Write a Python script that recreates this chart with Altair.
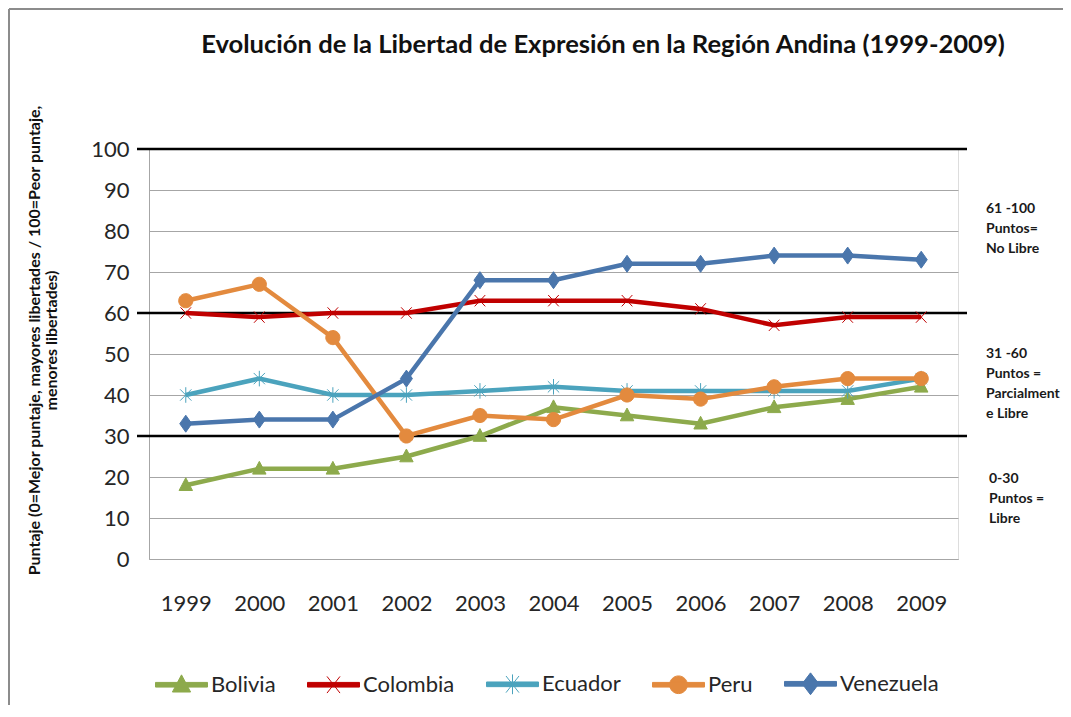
import altair as alt
import pandas as pd

years = ["1999", "2000", "2001", "2002", "2003", "2004", "2005", "2006", "2007", "2008", "2009"]
countries = ["Bolivia", "Colombia", "Ecuador", "Peru", "Venezuela"]
bolivia = [18, 22, 22, 25, 30, 37, 35, 33, 37, 39, 42]
colombia = [60, 59, 60, 60, 63, 63, 63, 61, 57, 59, 59]
ecuador = [40, 44, 40, 40, 41, 42, 41, 41, 41, 41, 44]
peru = [63, 67, 54, 30, 35, 34, 40, 39, 42, 44, 44]
venezuela = [33, 34, 34, 44, 68, 68, 72, 72, 74, 74, 73]
thresholds = [30, 60, 100]
y_ticks = [0, 10, 20, 30, 40, 50, 60, 70, 80, 90, 100]

title_text = "Evolución de la Libertad de Expresión en la Región Andina (1999-2009)"
y_title = ["Puntaje (0=Mejor puntaje, mayores libertades / 100=Peor puntaje,",
           "menores libertades)"]
ann_no_libre = ["61 -100", "Puntos=", "No Libre"]
ann_parcial = ["31 -60", "Puntos =", "Parcialment", "e Libre"]
ann_libre = ["0-30", "Puntos =", "Libre"]

colors = ["#8DAA4C", "#C00000", "#4BA3BD", "#E38A3E", "#4A76AC"]

# marker paths (chart)
marker_paths = [
    "M0,-1.05L0.95,0.75L-0.95,0.75Z",
    "M-0.75,-0.8L0.75,0.8M-0.75,0.8L0.75,-0.8",
    "M-0.8,-0.8L0.8,0.8M-0.8,0.8L0.8,-0.8M0,-1.1L0,1.1",
    "M-1,0A1,1 0 1,1 1,0A1,1 0 1,1 -1,0Z",
    "M0,-1.2L0.85,0L0,1.2L-0.85,0Z",
]
# legend paths: line segment + marker
bar = "M-1,-0.09L1,-0.09L1,0.09L-1,0.09Z"
legend_paths = [
    bar + "M0,-0.38L0.35,0.28L-0.35,0.28Z",
    bar + "M-0.25,-0.32L0.25,0.32M-0.25,0.32L0.25,-0.32",
    bar + "M-0.25,-0.32L0.25,0.32M-0.25,0.32L0.25,-0.32M0,-0.38L0,0.38",
    bar + "M-0.34,0A0.34,0.34 0 1,1 0.34,0A0.34,0.34 0 1,1 -0.34,0Z",
    bar + "M0,-0.42L0.32,0L0,0.42L-0.32,0Z",
]

series = [bolivia, colombia, ecuador, peru, venezuela]
rows = []
for c, vals in zip(countries, series):
    for yr, v in zip(years, vals):
        rows.append({"year": yr, "country": c, "value": v})
df = pd.DataFrame(rows)

W, H = 809, 410
PL, PT = 141, 141
TOTW, TOTH = 1055, 697

xenc = alt.X("year:O", sort=years,
             scale=alt.Scale(type="point", padding=0.5),
             axis=alt.Axis(labelAngle=0, ticks=False, grid=False, title=None,
                           domainColor="#A6A6A6", domainWidth=1,
                           labelFont="Lato", labelFontSize=22, labelColor="#262626",
                           labelPadding=44, labelBaseline="middle"))
yscale = alt.Scale(domain=[0, 100], nice=False)
yenc = alt.Y("value:Q", scale=yscale,
             axis=alt.Axis(values=y_ticks, ticks=False, grid=True, gridColor="#A6A6A6",
                           gridWidth=1, domainColor="#A6A6A6", domainWidth=1,
                           labelFont="Lato", labelFontSize=22, labelColor="#262626",
                           labelPadding=20,
                           title=y_title,
                           titleFont="Lato", titleFontSize=16, titleFontWeight="bold",
                           titleColor="#111111", titleAngle=-90, titleAlign="center",
                           titleBaseline="middle", titleX=-115, titleY=191,
                           titleLineHeight=17))

one = pd.DataFrame({"k": [0]})

frame_top = alt.Chart(one).mark_rule(color="#8C8C8C", strokeWidth=2).encode(
    x=alt.value(-140), x2=alt.value(TOTW - PL), y=alt.value(-140))
frame_left = alt.Chart(one).mark_rule(color="#8C8C8C", strokeWidth=2).encode(
    x=alt.value(-140), y=alt.value(-140), y2=alt.value(TOTH - PT))

title_mark = alt.Chart(one).mark_text(
    text=title_text, font="Lato", fontSize=25.6, fontWeight="bold", color="#111111",
    align="center", baseline="alphabetic").encode(x=alt.value(454), y=alt.value(-96))

thr = alt.Chart(pd.DataFrame({"t": thresholds})).mark_rule(color="black", strokeWidth=2.5).encode(
    y=alt.Y("t:Q", scale=yscale), x=alt.value(-12), x2=alt.value(818))

color_scale = alt.Scale(domain=countries, range=colors)

lines = alt.Chart(df).mark_line(strokeWidth=4.5).encode(
    x=xenc, y=yenc,
    color=alt.Color("country:N", scale=color_scale, legend=None))

points = alt.Chart(df).mark_point(filled=True, size=200, strokeWidth=1, opacity=1).encode(
    x=xenc, y=yenc,
    fill=alt.Fill("country:N", scale=color_scale, legend=None),
    stroke=alt.Stroke("country:N", scale=color_scale, legend=None),
    shape=alt.Shape("country:N", scale=alt.Scale(domain=countries, range=marker_paths), legend=None))

leg = alt.Legend(orient="none", legendX=6, legendY=508, direction="horizontal", columns=5,
                 title=None, padding=0, columnPadding=29, labelOffset=3,
                 symbolSize=2704, symbolStrokeWidth=1, symbolOpacity=1,
                 labelFont="Lato", labelFontSize=22, labelColor="#262626")
legend_layer = alt.Chart(df).transform_filter("false").mark_point(
    filled=True, strokeWidth=1, opacity=1).encode(
    fill=alt.Fill("country:N", scale=color_scale, legend=leg),
    stroke=alt.Stroke("country:N", scale=color_scale, legend=leg),
    shape=alt.Shape("country:N", scale=alt.Scale(domain=countries, range=legend_paths), legend=leg))

ann_style = dict(align="left", baseline="top", font="Lato", fontSize=14, fontWeight="bold",
                 color="#1A1A1A", lineHeight=20)
ann1 = alt.Chart(one).mark_text(text=ann_no_libre, **ann_style).encode(
    x=alt.value(837), y=alt.value(53))
ann2 = alt.Chart(one).mark_text(text=ann_parcial, **ann_style).encode(
    x=alt.value(837), y=alt.value(198))
ann3 = alt.Chart(one).mark_text(text=ann_libre, **ann_style).encode(
    x=alt.value(840), y=alt.value(323))

chart = alt.layer(frame_top, frame_left, title_mark, thr, lines, points, legend_layer,
                  ann1, ann2, ann3).resolve_scale(
    fill="independent", stroke="independent", shape="independent"
).properties(
    width=W, height=H,
    autosize=alt.AutoSizeParams(type="none"),
    padding={"left": PL, "top": PT, "right": TOTW - PL - W, "bottom": TOTH - PT - H},
).configure_view(stroke=None).configure(font="Lato")

chart.save("out.html", embed_options={"renderer": "svg", "actions": False})
